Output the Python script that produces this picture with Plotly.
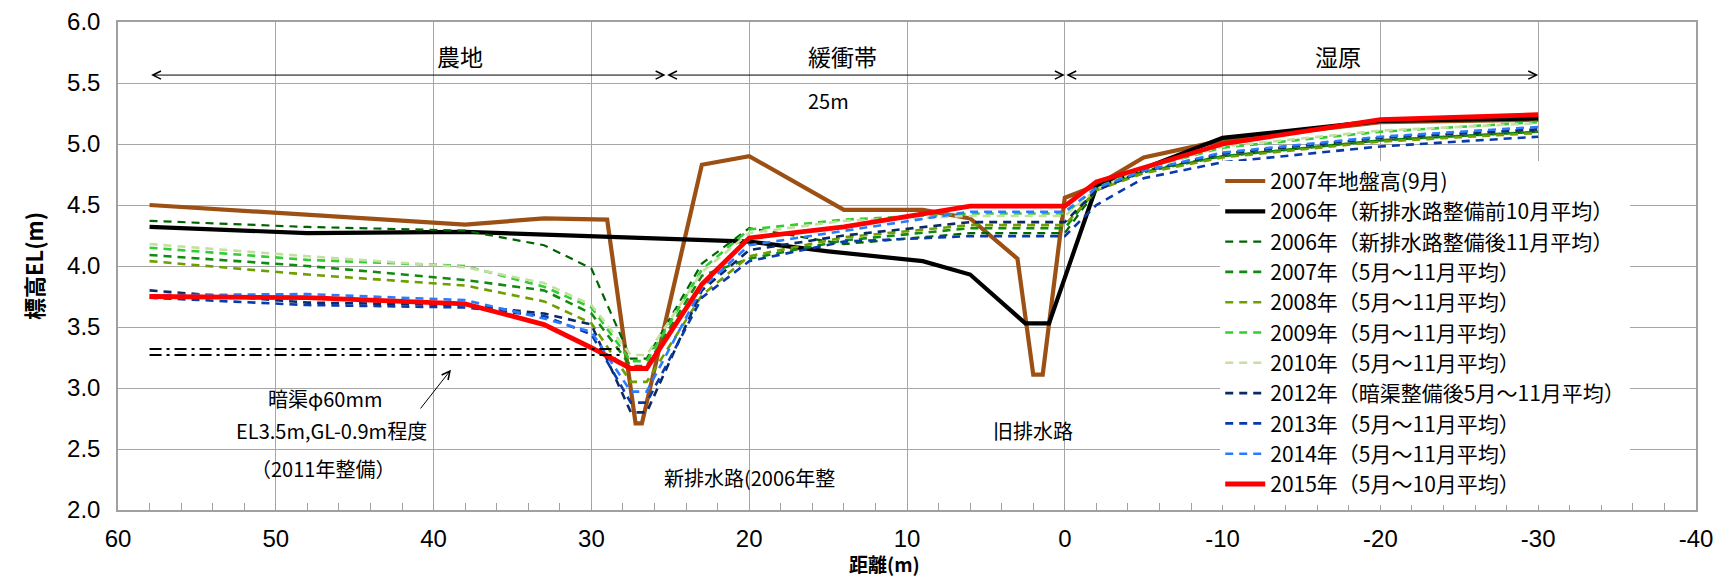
import plotly.graph_objects as go

# ---------------- data ----------------
# ground elevation 2007 (Sep)
x_ground = [58, 38, 33, 29, 27.2, 26.8, 23, 20, 14, 9, 6, 3, 2, 1.4, 0, -1, -2, -5, -10, -20, -30]
y_ground = [4.50, 4.34, 4.39, 4.38, 2.71, 2.71, 4.83, 4.90, 4.46, 4.46, 4.39, 4.06, 3.11, 3.11, 4.56, 4.61, 4.66, 4.89, 5.03, 5.18, 5.20]

# 2006 before new drain (Oct mean)
x_2006a = [58, 48, 38, 20, 15, 9, 6, 2.5, 1, -2, -5, -10, -20, -30]
y_2006a = [4.32, 4.27, 4.28, 4.20, 4.12, 4.04, 3.93, 3.53, 3.53, 4.65, 4.80, 5.05, 5.19, 5.21]

# water level monitoring positions (m)
x_wells = [58, 48, 38, 33, 30, 27.5, 26.5, 23, 20, 14, 6, 0, -2, -5, -10, -20, -30]

y_2006b = [4.37, 4.32, 4.29, 4.17, 3.98, 3.24, 3.24, 4.02, 4.31, 4.18, 4.27, 4.27, 4.62, 4.78, 4.90, 5.03, 5.10]
y_2007 = [4.09, 4.00, 3.885, 3.80, 3.61, 3.18, 3.18, 3.92, 4.06, 4.21, 4.31, 4.31, 4.63, 4.77, 4.90, 5.03, 5.10]
y_2008 = [4.04, 3.93, 3.84, 3.71, 3.53, 3.05, 3.05, 3.76, 4.08, 4.235, 4.335, 4.335, 4.62, 4.76, 4.89, 5.02, 5.09]
y_2009 = [4.15, 4.05, 4.00, 3.83, 3.66, 3.22, 3.22, 3.97, 4.30, 4.38, 4.43, 4.43, 4.64, 4.80, 4.97, 5.10, 5.18]
y_2010 = [4.18, 4.08, 3.99, 3.86, 3.68, 3.27, 3.27, 3.95, 4.27, 4.37, 4.41, 4.41, 4.63, 4.80, 4.98, 5.11, 5.17]
y_2012 = [3.80, 3.70, 3.68, 3.61, 3.52, 2.80, 2.80, 3.80, 4.13, 4.25, 4.36, 4.36, 4.62, 4.78, 4.92, 5.05, 5.12]
y_2013 = [3.74, 3.68, 3.66, 3.59, 3.44, 2.88, 2.88, 3.74, 4.04, 4.20, 4.245, 4.245, 4.50, 4.72, 4.85, 4.98, 5.06]
y_2014 = [3.76, 3.77, 3.72, 3.57, 3.46, 2.97, 2.97, 3.82, 4.17, 4.29, 4.445, 4.445, 4.64, 4.78, 4.93, 5.06, 5.14]
y_2015 = [3.75, 3.74, 3.69, 3.52, 3.33, 3.16, 3.16, 3.85, 4.23, 4.32, 4.49, 4.49, 4.69, 4.81, 5.00, 5.20, 5.24]

# underdrain markers (dash-dot)
x_drain = [58, 28]
y_drain_upper = [3.32, 3.32]
y_drain_lower = [3.27, 3.27]

names = [
    "2007年地盤高(9月)",
    "2006年（新排水路整備前10月平均）",
    "2006年（新排水路整備後11月平均）",
    "2007年（5月～11月平均）",
    "2008年（5月～11月平均）",
    "2009年（5月～11月平均）",
    "2010年（5月～11月平均）",
    "2012年（暗渠整備後5月～11月平均）",
    "2013年（5月～11月平均）",
    "2014年（5月～11月平均）",
    "2015年（5月～10月平均）",
]

x_tickvals = [60, 50, 40, 30, 20, 10, 0, -10, -20, -30, -40]
x_ticktext = ["60", "50", "40", "30", "20", "10", "0", "-10", "-20", "-30", "-40"]
y_tickvals = [2.0, 2.5, 3.0, 3.5, 4.0, 4.5, 5.0, 5.5, 6.0]
y_ticktext = ["2.0", "2.5", "3.0", "3.5", "4.0", "4.5", "5.0", "5.5", "6.0"]

# ---------------- figure ----------------
CJK = "Noto Sans CJK JP"
LAT = "Liberation Sans, Arial"
fig = go.Figure()

def add(x, y, name, color, width, dash="solid", show=True, group=None):
    fig.add_trace(go.Scatter(
        x=x, y=y, name=name, mode="lines",
        line=dict(color=color, width=width, dash=dash),
        showlegend=show, legendgroup=group or name,
        hoverinfo="x+y+name",
    ))

DASH = "8px,6px"
add(x_ground, y_ground, names[0], "#9C5014", 4.2)
add(x_2006a, y_2006a, names[1], "#000000", 4.2)
add(x_wells, y_2006b, names[2], "#006400", 2.2, DASH)
add(x_wells, y_2007, names[3], "#108A10", 2.6, DASH)
add(x_wells, y_2008, names[4], "#6E9E00", 2.6, DASH)
add(x_wells, y_2009, names[5], "#33CC33", 2.6, DASH)
add(x_wells, y_2010, names[6], "#C4DFA0", 2.6, DASH)
add(x_wells, y_2012, names[7], "#0A2A66", 2.6, DASH)
add(x_wells, y_2013, names[8], "#0A3AAA", 2.6, DASH)
add(x_wells, y_2014, names[9], "#2B7BFF", 2.6, DASH)
add(x_wells, y_2015, names[10], "#FF0000", 4.8)
add(x_drain, y_drain_upper, "暗渠1", "#000000", 2, "12px,5px,3px,5px", show=False)
add(x_drain, y_drain_lower, "暗渠2", "#000000", 2, "12px,5px,3px,5px", show=False)

annotations = []
def txt(x, y, s, size=20):
    annotations.append(dict(x=x, y=y, xref="x", yref="y", text=s, showarrow=False,
                            font=dict(family=CJK, size=size, color="#000000")))

txt(38.3, 5.72, "農地", 23)
txt(14.1, 5.72, "緩衝帯", 23)
txt(-17.3, 5.72, "湿原", 23)
txt(15.0, 5.36, "25m", 20)
txt(46.9, 2.91, "暗渠φ60mm", 20)
txt(46.5, 2.65, "EL3.5m,GL-0.9m程度", 20)
txt(47.0, 2.34, "（2011年整備）", 20)
txt(20.0, 2.27, "新排水路(2006年整", 20)
txt(2.0, 2.65, "旧排水路", 20)

def arrow(x0, x1, y):
    annotations.append(dict(x=x1, y=y, ax=x0, ay=y, xref="x", yref="y", axref="x", ayref="y",
                            text="", showarrow=True, arrowhead=5, startarrowhead=5,
                            arrowside="end+start", arrowsize=1.6, startarrowsize=1.6,
                            arrowwidth=1, arrowcolor="#000000", standoff=0, startstandoff=0))

arrow(58, 25.3, 5.565)
arrow(25.3, 0, 5.565)
arrow(0, -30, 5.565)
annotations.append(dict(x=38.9, y=3.15, ax=40.9, ay=2.82, xref="x", yref="y", axref="x", ayref="y",
                        text="", showarrow=True, arrowhead=5, arrowsize=1.6, arrowwidth=1,
                        arrowcolor="#000000", standoff=0))

# axis titles
annotations.append(dict(x=0.486, y=-0.11, xref="paper", yref="paper", text="<b>距離(m)</b>",
                        showarrow=False, xanchor="center", yanchor="middle",
                        font=dict(family=CJK, size=19, color="#000000")))
annotations.append(dict(x=-0.0539, y=0.5, xref="paper", yref="paper", text="<b>標高EL(m)</b>",
                        showarrow=False, xanchor="center", yanchor="middle", textangle=-90,
                        font=dict(family=CJK, size=22, color="#000000")))

# page body has an 8px margin: shift the plot area accordingly
fig.update_layout(
    width=1727, height=577,
    margin=dict(l=110, r=39, t=14, b=75, autoexpand=False),
    paper_bgcolor="white", plot_bgcolor="white",
    font=dict(family=LAT, size=24, color="#000000"),
    annotations=annotations,
    legend=dict(x=0.6985, y=0.7155, xanchor="left", yanchor="top",
                bgcolor="white", borderwidth=0,
                font=dict(family=CJK, size=21, color="#000000"),
                tracegroupgap=0, itemwidth=40),
    showlegend=True,
)

fig.update_xaxes(
    range=[60, -40], tickvals=x_tickvals, ticktext=x_ticktext,
    showgrid=True, gridcolor="#A6A6A6", gridwidth=1,
    showline=True, linecolor="#A0A0A0", linewidth=2, mirror=True,
    ticks="inside", ticklen=7, tickcolor="#A0A0A0",
    minor=dict(dtick=2, ticks="inside", ticklen=7, tickcolor="#A0A0A0", showgrid=False),
    tickfont=dict(family=LAT, size=24), ticklabelstandoff=6,
    zeroline=False, automargin=False,
)
fig.update_yaxes(
    range=[2, 6], tickvals=y_tickvals, ticktext=y_ticktext,
    showgrid=True, gridcolor="#A6A6A6", gridwidth=1,
    showline=True, linecolor="#A0A0A0", linewidth=1.5, mirror=True,
    ticks="", tickfont=dict(family=LAT, size=24), ticklabelstandoff=11,
    zeroline=False, automargin=False,
)

fig.write_html("out.html")
